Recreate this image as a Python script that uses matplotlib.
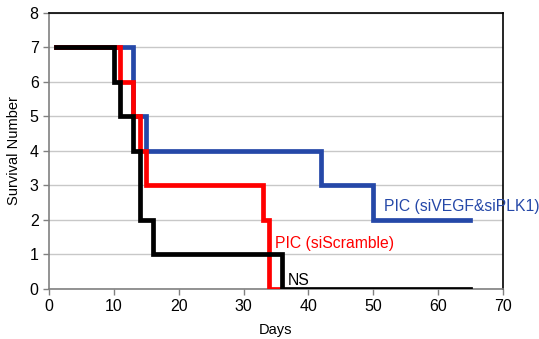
import matplotlib
matplotlib.use("Agg")
import matplotlib.pyplot as plt

plt.rcParams['font.family'] = ['Liberation Sans', 'DejaVu Sans']

# survival step data (days, number alive)
blue_days = [1, 13, 15, 42, 50, 65]
blue_vals = [7, 5, 4, 3, 2, 2]
red_days = [1, 11, 13, 14, 15, 33, 34, 36]
red_vals = [7, 6, 5, 4, 3, 2, 0, 0]
black_days = [1, 10, 11, 13, 14, 16, 36, 65]
black_vals = [7, 6, 5, 4, 2, 1, 0, 0]

fig = plt.figure(figsize=(5.39, 3.39), dpi=100)
ax = fig.add_axes([0.091, 0.1475, 0.842, 0.8142])

kw = dict(drawstyle='steps-post', lw=3.4, solid_capstyle='projecting', solid_joinstyle='miter')
ax.plot(blue_days, blue_vals, color='#2548a8', zorder=3, **kw)
ax.plot(red_days, red_vals, color='#ff0000', zorder=4, **kw)
ax.plot(black_days, black_vals, color='black', zorder=5, **kw)

ax.set_xlim(0, 70)
ax.set_ylim(0, 8)
ax.set_xticks(range(0, 71, 10))
ax.set_yticks(range(0, 9))
ax.grid(axis='y', color='#c8c8c8', lw=1)
ax.set_axisbelow(True)

for s in ['left', 'bottom']:
    ax.spines[s].set_color('#808080')
    ax.spines[s].set_linewidth(1.2)
for s in ['top', 'right']:
    ax.spines[s].set_color('black')
    ax.spines[s].set_linewidth(1.2)
ax.tick_params(colors='#808080', labelcolor='black', labelsize=11.5, length=4, width=1)

ax.set_xlabel('Days', fontsize=10.5, labelpad=6)
ax.set_ylabel('Survival Number', fontsize=10.5, labelpad=6)

ax.text(51.6, 2.38, 'PIC (siVEGF&siPLK1)', color='#2548a8', fontsize=11.3, va='center', ha='left')
ax.text(34.9, 1.33, 'PIC (siScramble)', color='#ff0000', fontsize=11.3, va='center', ha='left')
ax.text(36.8, 0.26, 'NS', color='black', fontsize=11.3, va='center', ha='left')

fig.savefig('out.png', dpi=100)
